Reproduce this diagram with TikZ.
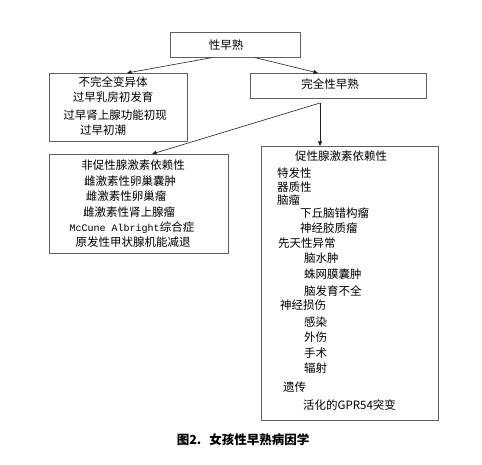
\documentclass[tikz,border=0pt]{standalone}
\usepackage{fontspec}
\setmainfont{Noto Sans CJK SC}
\newfontfamily\latinmono{Liberation Mono}
\usetikzlibrary{arrows.meta,calc}
\tikzset{
  causebox/.style={draw=gray!75!black,line width=0.6pt,inner sep=0pt,anchor=north west},
  item/.style={anchor=west,inner sep=0pt,font=\fontsize{11.5}{13}\selectfont},
  citem/.style={item,anchor=center},
  link/.style={-{Triangle[length=4.5pt,width=4pt]},gray!25!black,line width=0.6pt},
}

\begin{document}
\begin{tikzpicture}[x=1pt,y=-1pt]
  \useasboundingbox (0,0) rectangle (482,465);
  % boxes
  \node[causebox,minimum width=130pt,minimum height=25pt] (pp) at (170,32) {};
  \node[causebox,minimum width=138pt,minimum height=68pt] (incomplete) at (49,73) {};
  \node[causebox,minimum width=176pt,minimum height=25pt] (complete) at (250,73) {};
  \node[causebox,minimum width=179pt,minimum height=99pt] (gnrhind) at (49,154) {};
  \node[causebox,minimum width=177pt,minimum height=274pt] (gnrhdep) at (261,146) {};
  \coordinate (split) at (320,103);

  % connectors
  \draw[link] ([xshift=42pt]pp.south west) -- ([xshift=78pt]incomplete.north west);
  \draw[link] ([xshift=85pt]pp.south west) -- ([xshift=68pt]complete.north west);
  \draw[link] (split) -- (split |- gnrhdep.north);
  \draw[link] (split) -- ([xshift=103pt]gnrhind.north west);

  % texts
  \node[citem] (ppT) at (226,45) {性早熟};
  \node[citem] (incT1) at (113,82) {不完全变异体};
  \node[citem] (incT2) at (113,97) {过早乳房初发育};
  \node[citem] (incT3) at (115,115) {过早肾上腺功能初现};
  \node[citem] (incT4) at (103,130) {过早初潮};
  \node[citem] (compT) at (330,84) {完全性早熟};

  \node[citem] (indT1) at (133,165) {非促性腺激素依赖性};
  \node[citem] (indT2) at (130,181) {雌激素性卵巢囊肿};
  \node[citem] (indT3) at (126,196) {雌激素性卵巢瘤};
  \node[citem] (indT4) at (129,212) {雌激素性肾上腺瘤};
  \node[citem] (indT5) at (132,228) {{\latinmono\fontsize{10}{12}\selectfont McCune Albright}综合症};
  \node[citem] (indT6) at (133,242) {原发性甲状腺机能减退};

  \node[item] (depT0) at (295,156) {促性腺激素依赖性};
  \node[item] (depT1) at (277,173) {特发性};
  \node[item] (depT2) at (277,187) {器质性};
  \node[item] (depT3) at (277,200) {脑瘤};
  \node[item] (depT4) at (300,213) {下丘脑错构瘤};
  \node[item] (depT5) at (300,228) {神经胶质瘤};
  \node[item] (depT6) at (278,243) {先天性异常};
  \node[item] (depT7) at (304,258) {脑水肿};
  \node[item] (depT8) at (304,274) {蛛网膜囊肿};
  \node[item] (depT9) at (304,291) {脑发育不全};
  \node[item] (depT10) at (280,305) {神经损伤};
  \node[item] (depT11) at (304,322) {感染};
  \node[item] (depT12) at (304,337) {外伤};
  \node[item] (depT13) at (304,353) {手术};
  \node[item] (depT14) at (304,368) {辐射};
  \node[item] (depT15) at (283,387) {遗传};
  \node[item] (depT16) at (303,405) {活化的GPR54突变};

  % caption
  \node[citem,font=\fontsize{12.5}{14}\selectfont\bfseries] (caption) at (243,440) {图2.\hspace{8pt}女孩性早熟病因学};
\end{tikzpicture}
\end{document}
